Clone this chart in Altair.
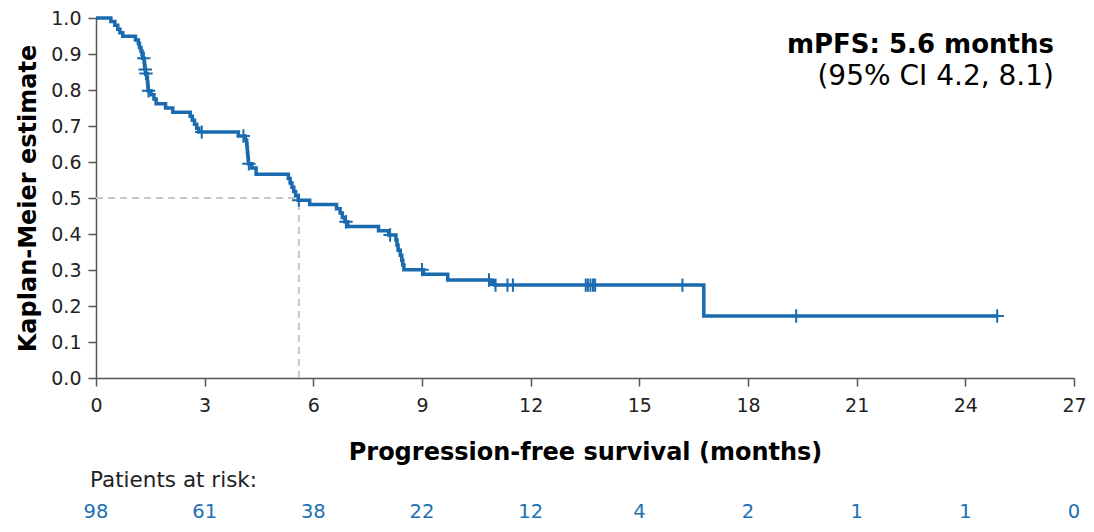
import altair as alt
import pandas as pd

# ---- data ----
step_times = [0.0, 0.41, 0.52, 0.60, 0.66, 0.74, 1.09, 1.17, 1.20, 1.24, 1.27, 1.29,
              1.33, 1.34, 1.35, 1.37, 1.41, 1.42, 1.43, 1.44, 1.52, 1.60, 1.66, 1.92,
              2.12, 2.60, 2.66, 2.72, 2.78, 2.84, 3.93, 4.12, 4.16, 4.17, 4.18, 4.19,
              4.20, 4.21, 4.30, 4.42, 5.31, 5.36, 5.41, 5.46, 5.51, 5.58, 5.90, 6.64,
              6.74, 6.80, 6.87, 6.95, 7.80, 8.08, 8.28, 8.31, 8.34, 8.40, 8.44, 8.47,
              8.50, 9.04, 9.71, 10.93, 11.00, 16.78, 24.88]
step_surv = [1.000, 0.990, 0.980, 0.969, 0.959, 0.949, 0.939, 0.929, 0.918, 0.908, 0.898, 0.888,
             0.878, 0.867, 0.857, 0.846, 0.834, 0.822, 0.810, 0.798, 0.787, 0.775, 0.762, 0.750,
             0.738, 0.727, 0.716, 0.705, 0.694, 0.683, 0.672, 0.661, 0.650, 0.639, 0.628, 0.617,
             0.606, 0.595, 0.583, 0.566, 0.554, 0.542, 0.530, 0.518, 0.506, 0.494, 0.482, 0.470,
             0.458, 0.446, 0.434, 0.421, 0.409, 0.397, 0.383, 0.369, 0.355, 0.341, 0.327, 0.314,
             0.301, 0.288, 0.272, 0.265, 0.258, 0.172, 0.172]

censor_times = [1.32, 1.36, 1.38, 1.45, 2.92, 4.07, 4.22, 5.60, 6.90, 8.12, 9.00, 10.85,
                11.03, 11.36, 11.51, 13.52, 13.58, 13.65, 13.72, 13.78,
                16.19, 19.33, 24.88]
censor_surv = [0.888, 0.857, 0.846, 0.798, 0.683, 0.672, 0.595, 0.494, 0.434, 0.397, 0.301, 0.272,
               0.258, 0.258, 0.258, 0.258, 0.258, 0.258, 0.258, 0.258,
               0.258, 0.172, 0.172]

risk_times = [0, 3, 6, 9, 12, 15, 18, 21, 24, 27]
risk_counts = [98, 61, 38, 22, 12, 4, 2, 1, 1, 0]

median_time = 5.6
median_surv = 0.5

y_ticks = [0.0, 0.1, 0.2, 0.3, 0.4, 0.5, 0.6, 0.7, 0.8, 0.9, 1.0]
annotation_lines = ["mPFS: 5.6 months", "(95% CI 4.2, 8.1)"]

# ---- styling ----
FONT = "DejaVu Sans"
BLUE = "#1a6aaf"
RISK_BLUE = "#2070b4"

steps = pd.DataFrame({"t": step_times, "s": step_surv})
cens = pd.DataFrame({"t": censor_times, "s": censor_surv})
risk = pd.DataFrame({"t": risk_times, "n": risk_counts})
med = pd.DataFrame({"t0": [0.0], "t": [median_time], "s0": [0.0], "s": [median_surv]})

x_scale = alt.Scale(domain=[0, 27], nice=False, zero=True)
y_scale = alt.Scale(domain=[0, 1], nice=False)

X_TITLE = "Progression-free survival (months)"
Y_TITLE = "Kaplan-Meier estimate"
x_axis = alt.Axis(values=risk_times, title=X_TITLE,
                  labelFontSize=19, titleFontSize=24, titleFontWeight="bold",
                  tickSize=8, labelPadding=10, titlePadding=25, labelFlush=False)
y_axis = alt.Axis(values=y_ticks, format=".1f", title=Y_TITLE,
                  labelFontSize=19, titleFontSize=24, titleFontWeight="bold",
                  tickSize=8, labelPadding=7, titlePadding=10, labelFlush=False)

km = alt.Chart(steps).mark_line(interpolate="step-after", strokeWidth=3.5, color=BLUE).encode(
    x=alt.X("t:Q", scale=x_scale, axis=x_axis, title=X_TITLE),
    y=alt.Y("s:Q", scale=y_scale, axis=y_axis, title=Y_TITLE))

hline = alt.Chart(med).mark_rule(color="#c8c8c8", strokeWidth=2, strokeDash=[7, 5]).encode(
    x=alt.X("t0:Q", scale=x_scale, axis=x_axis, title=X_TITLE), x2="t:Q",
    y=alt.Y("s:Q", scale=y_scale, axis=y_axis, title=Y_TITLE))
vline = alt.Chart(med).mark_rule(color="#c8c8c8", strokeWidth=2, strokeDash=[7, 5]).encode(
    x=alt.X("t:Q", scale=x_scale, axis=x_axis, title=X_TITLE),
    y=alt.Y("s0:Q", scale=y_scale, axis=y_axis, title=Y_TITLE), y2="s:Q")

ticks = alt.Chart(cens).mark_point(shape="M-1,0L1,0M0,-1L0,1", size=180, strokeWidth=2,
                                   filled=False, color=BLUE, opacity=1).encode(
    x=alt.X("t:Q", scale=x_scale, axis=x_axis, title=X_TITLE),
    y=alt.Y("s:Q", scale=y_scale, axis=y_axis, title=Y_TITLE))

risk_text = alt.Chart(risk).mark_text(font=FONT, fontSize=19.5, color=RISK_BLUE,
                                      baseline="middle", align="center").encode(
    x=alt.X("t:Q", scale=x_scale, axis=x_axis, title=X_TITLE),
    y=alt.value(494),
    text=alt.Text("n:Q"))

risk_label = alt.Chart(pd.DataFrame({"txt": ["Patients at risk:"]})).mark_text(
    font=FONT, fontSize=21.5, color="#222222", align="left", baseline="middle").encode(
    x=alt.value(-6), y=alt.value(463), text="txt:N")

ann1 = alt.Chart(pd.DataFrame({"txt": [annotation_lines[0]]})).mark_text(
    font=FONT, fontSize=26, fontWeight="bold", color="#000000", align="right",
    baseline="middle").encode(x=alt.value(958), y=alt.value(27), text="txt:N")
ann2 = alt.Chart(pd.DataFrame({"txt": [annotation_lines[1]]})).mark_text(
    font=FONT, fontSize=28, color="#000000", align="right",
    baseline="middle").encode(x=alt.value(958), y=alt.value(59), text="txt:N")

chart = alt.layer(hline, vline, km, ticks, risk_text, risk_label, ann1, ann2).properties(
    width=978, height=360,
    autosize=alt.AutoSizeParams(type="none"),
    padding={"left": 88, "top": 10, "right": 12, "bottom": 146},
).configure_view(stroke=None).configure_axis(
    grid=False, domainColor="#555555", tickColor="#555555", domainWidth=1.5, tickWidth=1.5,
    labelColor="#222222", titleColor="#000000", labelFont=FONT, titleFont=FONT)

chart.save("out.html", embed_options={"renderer": "svg", "actions": False})
